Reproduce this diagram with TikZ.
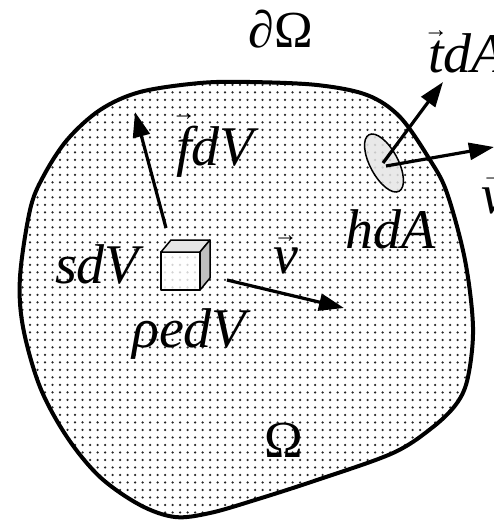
\documentclass[tikz,border=0pt]{standalone}
\usepackage{fontspec}
\setmainfont{Liberation Serif}
\usetikzlibrary{arrows.meta,patterns.meta}
\newcommand\vecover[2]{{\ooalign{#2\cr\hidewidth\raisebox{#1}{\fontsize{24}{24}\selectfont\upshape\char"2192}\hidewidth\cr}}}
\begin{document}
\begin{tikzpicture}[x=1pt,y=-1pt,
  lbl/.style={font=\fontsize{56}{62}\selectfont\itshape, inner sep=0pt, anchor=base west},
  rlbl/.style={font=\fontsize{52}{58}\selectfont, inner sep=0pt, anchor=base},
  arr/.style={line width=3.2pt, -{Triangle[length=25pt,width=17pt]}},
  blob/.style={line width=4pt, pattern={Dots[distance=7.5pt,radius=1.25pt]}, pattern color=black!85},
  face/.style={line width=1.5pt, line join=round}]
\useasboundingbox (0,0) rectangle (494,520);
% region
\draw[blob] plot[smooth cycle, tension=0.55] coordinates {
 (250,82) (317,85) (367,95) (400,117) (430,160) (447,193) (465,260) (473,327)
 (468,377) (457,403) (433,427) (393,453) (317,480) (255,500) (210,513) (175,517)
 (140,505) (100,477) (67,437) (40,387) (23,327) (20,277) (30,210) (43,177)
 (67,140) (100,110) (140,92) (200,83)};
% cube
\fill[white, opacity=0.8] (161,252) rectangle (200,290);
\draw[face] (161,252) rectangle (200,290);
\draw[face, fill=black!10] (161,252) -- (171,240) -- (210,240) -- (200,252) -- cycle;
\draw[face, fill=black!25] (200,252) -- (210,240) -- (210,278) -- (200,290) -- cycle;
\coordinate (fstart) at (166,228);
\coordinate (fend) at (135,112);
\coordinate (vstart) at (227,280);
\coordinate (vend) at (344,308);
\draw[arr] (fstart) -- (fend);
\draw[arr] (vstart) -- (vend);
% surface element
\draw[line width=1.5pt, fill=black!10, fill opacity=0.85] (384,163) ellipse [x radius=32, y radius=14, rotate=-62];
\coordinate (el) at (383,163);
\coordinate (el2) at (386,166);
\coordinate (tend) at (443,82);
\coordinate (nend) at (494,147);
\draw[arr] (el) -- (tend);
\draw[arr] (el2) -- (nend);
% labels
\node[rlbl] (dO) at (281,47) {\itshape ∂\upshape Ω};
\node[lbl] (tdA) at (428,72) {\vecover{0.62em}{t}dA};
\node[lbl] (nvec) at (481,213) {\vecover{0.55em}{v}};
\node[lbl] (fdV) at (176,165) {\vecover{0.8em}{f}dV};
\node[lbl] (hdA) at (345,248) {hdA};
\node[lbl] (sdV) at (55,283) {sdV};
\node[lbl] (vv) at (273,273) {\vecover{0.55em}{v}};
\node[lbl] (redV) at (132,347) {ρedV};
\node[rlbl] (Om) at (284,457) {Ω};
\end{tikzpicture}
\end{document}
